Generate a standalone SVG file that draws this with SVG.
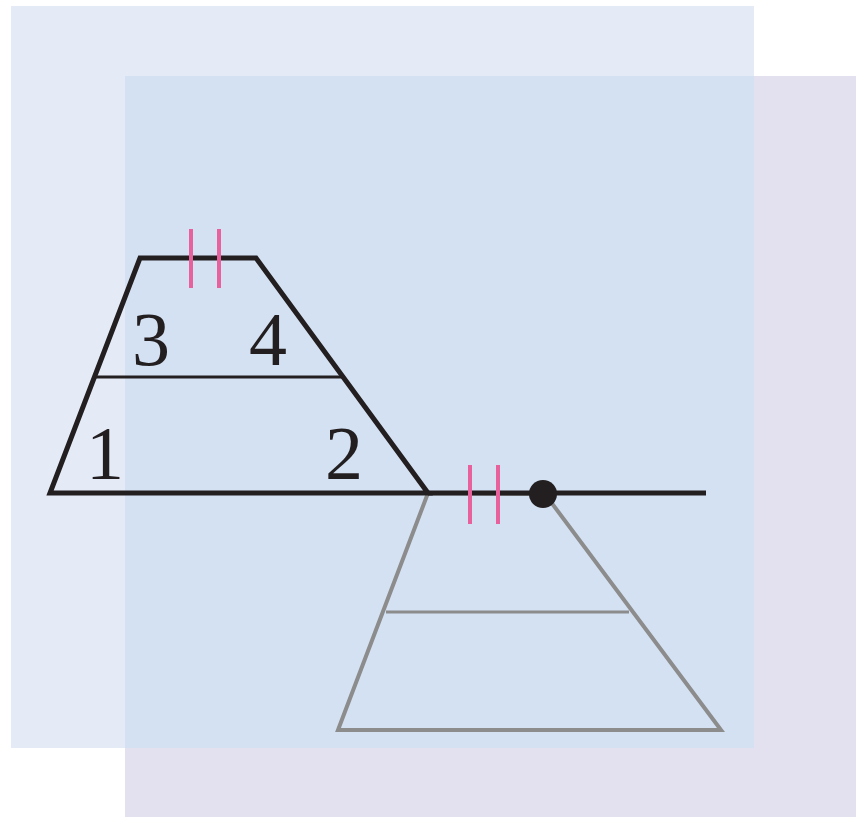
<svg xmlns="http://www.w3.org/2000/svg" width="856" height="817" viewBox="0 0 856 817">
<style>
.blk{fill:none;stroke:#231f20;stroke-linejoin:miter}
.gry{fill:none;stroke:#8c8c8c}
.tick{stroke:#e8609c;stroke-width:4}
.lbl{font-family:"Liberation Serif",serif;font-size:76px;fill:#231f20;text-anchor:middle}
</style>
<g id="background">
<rect x="0" y="0" width="856" height="817" fill="#ffffff"/>
<rect x="11" y="6" width="743" height="742" fill="#e4ebf7"/>
<rect x="125" y="76" width="731" height="741" fill="#e3e0ef"/>
<rect x="125" y="76" width="629" height="672" fill="#d4e1f2"/>
</g>
<g id="image-trapezoid">
<polygon class="gry" stroke-width="4" points="428,493 545,494 721,730 338,730"/>
<line class="gry" stroke-width="3" x1="386" y1="612" x2="629" y2="612"/>
</g>
<g id="trapezoid">
<polygon class="blk" stroke-width="5" points="140,258 256,258 428,493 50,493"/>
<line class="blk" stroke-width="3" x1="95" y1="377" x2="342" y2="377"/>
</g>
<g id="line">
<line class="blk" stroke-width="5" x1="428" y1="493" x2="706" y2="493"/>
<circle cx="543" cy="494" r="14" fill="#231f20"/>
</g>
<g id="ticks">
<line class="tick" x1="191" y1="229" x2="191" y2="288"/>
<line class="tick" x1="219" y1="229" x2="219" y2="288"/>
<line class="tick" x1="470" y1="465" x2="470" y2="524"/>
<line class="tick" x1="498" y1="465" x2="498" y2="524"/>
</g>
<g id="labels">
<text class="lbl" x="151" y="365">3</text>
<text class="lbl" x="268" y="365">4</text>
<text class="lbl" x="105" y="479">1</text>
<text class="lbl" x="344" y="479">2</text>
</g>
</svg>
